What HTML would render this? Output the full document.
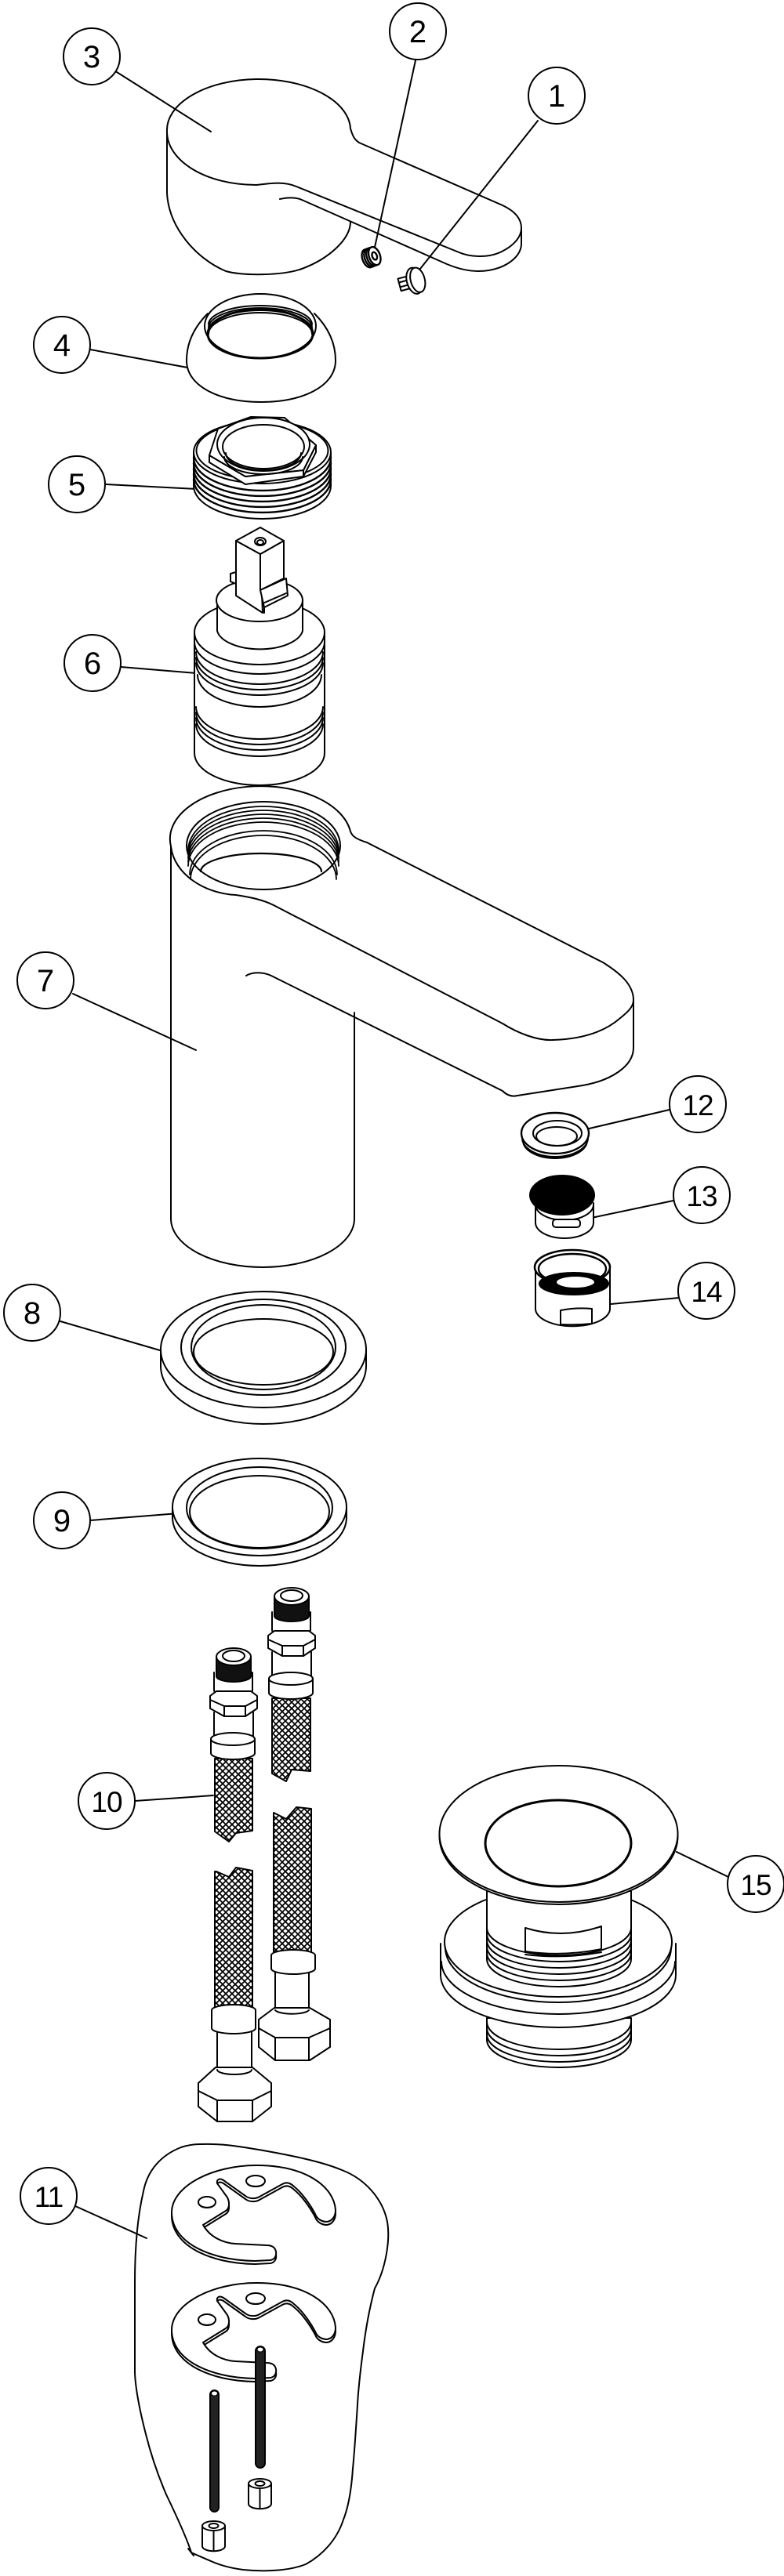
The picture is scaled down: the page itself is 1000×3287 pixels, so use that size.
<!DOCTYPE html>
<html><head><meta charset="utf-8">
<style>
html,body{margin:0;padding:0;background:#fff}
svg{display:block}
text{font-family:"Liberation Sans",Arial,sans-serif;font-size:40px;text-anchor:middle;fill:#000;stroke:none}
text.d{font-size:37px;letter-spacing:-1px}
</style></head>
<body>
<svg width="1000" height="3287" viewBox="0 0 1000 3287" xmlns="http://www.w3.org/2000/svg">
<defs>
<pattern id="mesh" width="8" height="8" patternUnits="userSpaceOnUse">
<rect width="8" height="8" fill="#fff"/>
<path d="M-2,-2 L10,10 M10,-2 L-2,10" stroke="#000" stroke-width="1.7"/>
</pattern>
</defs>
<rect width="1000" height="3287" fill="#fff"/>
<g fill="none" stroke="#000" stroke-width="2" stroke-linejoin="round" stroke-linecap="round">

<!-- ===== Label circles & leaders ===== -->
<circle cx="710" cy="122" r="36"/><line x1="686" y1="154" x2="532" y2="348"/>
<circle cx="533" cy="40" r="36"/><line x1="530" y1="77" x2="477" y2="320"/>
<circle cx="117" cy="72" r="36"/><line x1="149" y1="92" x2="269" y2="168"/>
<circle cx="79" cy="440" r="36"/><line x1="115" y1="446" x2="277" y2="476"/>
<circle cx="98" cy="618" r="36"/><line x1="135" y1="618" x2="251" y2="624"/>
<circle cx="118" cy="846" r="36"/><line x1="154" y1="851" x2="287" y2="862"/>
<circle cx="58" cy="1251" r="36"/><line x1="93" y1="1268" x2="250" y2="1340"/>
<circle cx="890" cy="1409" r="36"/><line x1="854" y1="1416" x2="743" y2="1442"/>
<circle cx="895" cy="1525" r="36"/><line x1="859" y1="1532" x2="740" y2="1557"/>
<circle cx="901" cy="1647" r="36"/><line x1="866" y1="1656" x2="768" y2="1665"/>
<circle cx="41" cy="1675" r="36"/><line x1="77" y1="1686" x2="221" y2="1728"/>
<circle cx="79" cy="1940" r="36"/><line x1="115" y1="1940" x2="228" y2="1931"/>
<circle cx="136" cy="2298" r="36"/><line x1="172" y1="2298" x2="272" y2="2291"/>
<circle cx="964" cy="2404" r="36"/><line x1="929" y1="2395" x2="863" y2="2363"/>
<circle cx="62" cy="2802" r="36"/><line x1="96" y1="2815" x2="187" y2="2856"/>

<!-- ===== 3 Handle ===== -->
<path d="M213,168 A117,65 0 0 1 447,164 C450,174 452,178 458,182 L641,262 C658,270 665,280 665,291 L665,311 C665,330 640,346 610,346 C596,346 582,342 570,337 L385,255 C376,251 366,252 357,254"/>
<path d="M213,168 C213,205 262,236 327,236 C345,234 362,231 378,238 L583,321 C598,328 622,330 640,321 C656,313 665,302 665,291"/>
<path d="M213,168 L213,246 C215,290 250,330 288,346 C310,352 360,352 385,343 C420,330 447,305 447,283"/>

<!-- 2 set screw -->
<g transform="translate(474,328) rotate(-20)" stroke-width="2.4">
<ellipse cx="-5" cy="0" rx="7" ry="12"/>
<ellipse cx="-2" cy="0" rx="7" ry="12"/>
<ellipse cx="1" cy="0" rx="7" ry="12"/>
<ellipse cx="4" cy="0" rx="7" ry="12" fill="#fff"/>
<ellipse cx="4" cy="0" rx="3" ry="5"/>
</g>
<!-- 1 screw -->
<g transform="translate(526,359) rotate(-15)">
<rect x="-17" y="-8" width="14" height="16" fill="#fff"/>
<path d="M-17,-3 L-5,-3 M-17,3 L-5,3"/>
<ellipse cx="3" cy="0" rx="10" ry="17" fill="#fff"/>
<ellipse cx="7" cy="0" rx="9" ry="16" fill="#fff"/>
</g>

<!-- ===== 4 Cap ===== -->
<path d="M265,400 C245,420 238,440 238,460 C238,493 280,513 333,513 C386,513 428,493 428,460 C428,440 421,420 401,400" fill="#fff"/>
<ellipse cx="332" cy="416" rx="71" ry="41" fill="#fff"/>
<path d="M266,414 A66,24 0 0 1 398,414 M266,418 A66,25 0 0 1 398,418 M266,422 A66,26 0 0 1 398,422 M266,426 A66,27 0 0 1 398,426"/>
<ellipse cx="332" cy="426" rx="67" ry="31" stroke-width="3"/>

<!-- ===== 5 Nut ===== -->
<path d="M247,577 L247,620 A87.5,42 0 0 0 422,620 L422,577" fill="#fff"/>
<path d="M247,584 A87.5,42 0 0 0 422,584 M247,591 A87.5,42 0 0 0 422,591 M247,598 A87.5,42 0 0 0 422,598 M247,605 A87.5,42 0 0 0 422,605 M247,612 A87.5,42 0 0 0 422,612" stroke-width="2.4"/>
<ellipse cx="334.5" cy="577" rx="87.5" ry="40" fill="#fff"/>
<ellipse cx="334.5" cy="575" rx="84" ry="37"/>
<polygon points="267,581 267,590 313,618 387,608 403,577 403,568 387,600 313,608" fill="#fff"/>
<path d="M387,600 L387,608"/>
<polygon points="267,581 278,547 320,532 363,533 403,568 387,600 313,608" fill="#fff"/>
<ellipse cx="336" cy="567" rx="59" ry="34" fill="#fff"/>
<ellipse cx="336" cy="570" rx="52" ry="28"/>
<path d="M286,583 A50,22 0 0 0 386,583 M288,578 A48,22 0 0 0 384,578"/>

<!-- ===== 6 Cartridge ===== -->
<path d="M248,807 L248,961 A83,41 0 0 0 414,961 L414,807" fill="#fff"/>
<ellipse cx="331" cy="807" rx="83" ry="41" fill="#fff"/>
<path d="M248,819 A83,41 0 0 0 414,819 M250,832 A81,41 0 0 0 412,832 M250,839 A81,41 0 0 0 412,839 M250,846 A81,41 0 0 0 412,846 M252,861 A79,41 0 0 0 410,861 M250,902 A81,41 0 0 0 412,902 M250,909 A81,41 0 0 0 412,909 M250,916 A81,41 0 0 0 412,916 M250,924 A81,41 0 0 0 412,924"/>
<path d="M277,766 L277,805 A55,27 0 0 0 386,805 L386,766" fill="#fff"/>
<ellipse cx="331" cy="766" rx="55" ry="27" fill="#fff"/>
<polygon points="301,690 332,707 335,782 301,760" fill="#fff"/>
<polygon points="332,707 362,690 362,738 332,753" fill="#fff"/>
<polygon points="332,753 365,738 367,760 337,775" fill="#fff"/>
<path d="M337,775 L337,782 M335,770 L365,757"/>
<polygon points="294,732 301,730 301,745 294,742" fill="#fff"/>
<polygon points="301,690 332,673 362,690 332,707" fill="#fff"/>
<ellipse cx="332" cy="691" rx="7" ry="5"/>
<ellipse cx="332" cy="692" rx="4" ry="3"/>

<!-- ===== 7 Spout body ===== -->
<path d="M218,1080 L218,1555 A117,62 0 0 0 452,1555 L452,1292"/>
<path d="M218,1080 A115,67 0 0 1 447,1061 C449,1066 452,1070 468,1075 L769,1228 C788,1240 808,1255 808,1276 L808,1337 C808,1360 780,1380 737,1386 L660,1398 C652,1400 646,1397 641,1392 L346,1245 C335,1240 322,1240 314,1245"/>
<path d="M218,1080 C222,1115 260,1140 301,1142 C320,1145 335,1148 349,1155 L641,1306 C660,1318 685,1328 705,1327 C740,1326 769,1318 790,1300 C800,1292 808,1285 808,1276"/>
<ellipse cx="336" cy="1079" rx="98" ry="56"/>
<path d="M240,1085 A96,56 0 0 1 432,1085 M240,1090 A96,56 0 0 1 432,1090 M240,1095 A96,56 0 0 1 432,1095 M240,1100 A96,56 0 0 1 432,1100 M240,1105 A96,56 0 0 1 432,1105 M242,1116 A94,56 0 0 1 430,1116 M243,1122 A93,56 0 0 1 429,1122" stroke-width="1.8"/>
<path d="M256,1112 A77,23 0 0 1 410,1112" stroke-width="2.2"/>

<!-- ===== 12 ===== -->
<path d="M666,1452 A42,24 0 0 0 750,1452 M667,1455 A41,23 0 0 0 749,1455"/>
<ellipse cx="708" cy="1446" rx="43" ry="26" fill="#fff" stroke-width="2.4"/>
<ellipse cx="711" cy="1446" rx="31" ry="16"/>
<ellipse cx="710" cy="1450" rx="26" ry="12"/>

<!-- ===== 13 ===== -->
<path d="M683,1535 L683,1560 A37,20 0 0 0 757,1560 L757,1535" fill="#fff"/>
<path d="M683,1537 A37,20 0 0 0 757,1537"/>
<rect x="705" y="1556" width="35" height="10" rx="4" fill="#fff"/>
<ellipse cx="717" cy="1525" rx="41" ry="25" fill="#000"/>

<!-- ===== 14 ===== -->
<path d="M683,1617 L683,1670 A47,22 0 0 0 778,1670 L778,1617" fill="#fff"/>
<ellipse cx="730" cy="1617" rx="48" ry="22" fill="#fff" stroke-width="2.6"/>
<ellipse cx="730" cy="1619" rx="43" ry="19" stroke-width="2.4"/>
<ellipse cx="732" cy="1638" rx="44" ry="14" fill="#000"/>
<ellipse cx="734" cy="1636" rx="25" ry="8" fill="#fff"/>
<path d="M715,1672 Q735,1668 755,1670 L755,1689 Q735,1691 715,1690 Z" fill="#fff"/>

<!-- ===== 8 ===== -->
<path d="M205,1722 L205,1743 A131,74 0 0 0 467,1743 L467,1722" fill="#fff"/>
<ellipse cx="336" cy="1722" rx="131" ry="74" fill="#fff"/>
<ellipse cx="336" cy="1719" rx="105" ry="61"/>
<ellipse cx="336" cy="1719" rx="92" ry="54"/>
<ellipse cx="336" cy="1725" rx="89" ry="42"/>

<!-- ===== 9 ===== -->
<path d="M220,1923 L220,1936 A111,62 0 0 0 442,1936 L442,1923" fill="#fff"/>
<ellipse cx="331" cy="1923" rx="111" ry="62" fill="#fff"/>
<ellipse cx="331" cy="1924" rx="93" ry="52"/>
<ellipse cx="331" cy="1929" rx="89" ry="46"/>

<!-- ===== 10 Hoses ===== -->
<!-- right hose upper -->
<path d="M347,2167 L347,2263 L365,2273 L372,2258 L396,2260 L396,2167 Z" fill="url(#mesh)"/>
<path d="M347,2057 L347,2080 A24.5,7 0 0 0 396,2080 L396,2057" fill="#fff"/>
<path d="M350,2037 L350,2062 A22,7 0 0 0 394,2062 L394,2037 Z" fill="#111"/>
<ellipse cx="372" cy="2037" rx="22" ry="11" fill="#fff"/>
<ellipse cx="372" cy="2036" rx="14" ry="7"/>
<path d="M347,2108 L347,2137 A25,7 0 0 0 397,2137 L397,2108" fill="#fff"/>
<polygon points="342,2087 350,2081 394,2081 402,2087 402,2103 387,2113 360,2113 342,2103" fill="#fff"/>
<path d="M342,2092 L360,2100 L387,2100 L402,2092 M360,2100 L360,2113 M387,2100 L387,2113"/>
<path d="M343,2142 L343,2160 A28,8 0 0 0 399,2160 L399,2142 A28,8 0 0 0 343,2142 Z" fill="#fff"/>
<path d="M343,2142 A28,8 0 0 0 399,2142"/>
<!-- left hose upper -->
<path d="M274,2244 L274,2337 L292,2350 L301,2339 L322,2336 L322,2244 Z" fill="url(#mesh)"/>
<path d="M273,2134 L273,2157 A24.5,7 0 0 0 322,2157 L322,2134" fill="#fff"/>
<path d="M276,2114 L276,2139 A22,7 0 0 0 320,2139 L320,2114 Z" fill="#111"/>
<ellipse cx="298" cy="2114" rx="22" ry="11" fill="#fff"/>
<ellipse cx="298" cy="2113" rx="14" ry="7"/>
<path d="M273,2185 L273,2214 A25,7 0 0 0 323,2214 L323,2185" fill="#fff"/>
<polygon points="268,2164 276,2158 320,2158 328,2164 328,2180 313,2190 286,2190 268,2180" fill="#fff"/>
<path d="M268,2169 L286,2177 L313,2177 L328,2169 M286,2177 L286,2190 M313,2177 L313,2190"/>
<path d="M269,2219 L269,2237 A28,8 0 0 0 325,2237 L325,2219 A28,8 0 0 0 269,2219 Z" fill="#fff"/>
<path d="M269,2219 A28,8 0 0 0 325,2219"/>
<!-- right hose lower -->
<path d="M349,2313 L365,2321 L378,2306 L397,2308 L397,2500 L349,2500 Z" fill="url(#mesh)"/>
<path d="M351,2516 L351,2567 L394,2567 L394,2516" fill="#fff"/>
<path d="M346,2495 L346,2512 A28,7 0 0 0 402,2512 L402,2495 A28,7 0 0 0 346,2495 Z" fill="#fff"/>
<polygon points="330,2577 350,2562 395,2562 421,2577 421,2612 395,2629 351,2629 330,2612" fill="#fff"/>
<path d="M330,2588 L351,2600 L394,2600 L421,2588 M351,2600 L351,2629 M394,2600 L394,2629 M351,2565 A22,6 0 0 0 394,2565"/>
<!-- left hose lower -->
<path d="M276,2388 L292,2395 L301,2383 L322,2387 L322,2567 L274,2567 L274,2388 Z" fill="url(#mesh)"/>
<path d="M277,2590 L277,2643 L321,2643 L321,2590" fill="#fff"/>
<path d="M270,2565 L270,2588 A28,7 0 0 0 326,2588 L326,2565 A28,7 0 0 0 270,2565 Z" fill="#fff"/>
<polygon points="253,2658 275,2638 322,2638 346,2658 346,2688 322,2707 277,2707 253,2688" fill="#fff"/>
<path d="M253,2668 L277,2680 L322,2680 L346,2668 M277,2680 L277,2707 M322,2680 L322,2707 M277,2641 A22,6 0 0 0 321,2641"/>

<!-- ===== 15 Waste ===== -->
<path d="M621,2575 L621,2603 A92,35 0 0 0 805,2603 L805,2575 Z" fill="#fff"/>
<path d="M621,2580 A92,35 0 0 0 805,2580 M621,2588 A92,35 0 0 0 805,2588 M621,2596 A92,35 0 0 0 805,2596"/>
<path d="M562,2480 L562,2520 A150,67 0 0 0 862,2520 L862,2480" fill="#fff"/>
<path d="M563,2503 A149,67 0 0 0 861,2503"/>
<ellipse cx="712" cy="2478" rx="145" ry="70" fill="#fff"/>
<path d="M568,2485 A144,70 0 0 0 856,2485"/>
<path d="M621,2413 L621,2500 A92,35 0 0 0 805,2500 L805,2413 Z" fill="#fff"/>
<path d="M621,2460 A92,35 0 0 0 805,2460 M621,2468 A92,35 0 0 0 805,2468 M621,2476 A92,35 0 0 0 805,2476 M621,2484 A92,35 0 0 0 805,2484 M621,2492 A92,35 0 0 0 805,2492"/>
<path d="M670,2460 Q718,2475 767,2458 L767,2487 Q718,2497 670,2490 Z" fill="#fff"/>
<path d="M670,2494 Q718,2500 767,2491"/>
<ellipse cx="712.5" cy="2343" rx="152" ry="87" fill="#fff"/>
<ellipse cx="712.5" cy="2340" rx="152" ry="87" fill="#fff"/>
<ellipse cx="712" cy="2352" rx="93" ry="55" stroke-width="3"/>

<!-- ===== 11 Bag ===== -->
<path d="M256,2736 C280,2735 300,2738 330,2743 C370,2750 410,2758 436,2769 C465,2780 488,2805 494,2835 C498,2858 492,2895 478,2920 C470,2950 466,2975 463,3000 C459,3030 457,3050 456,3068 C454,3100 452,3130 450,3150 C448,3180 444,3200 438,3215 C430,3240 412,3260 390,3272 C370,3280 340,3282 310,3279 C295,3277 280,3273 269,3268 C260,3264 250,3260 244,3257 C238,3238 225,3210 212,3183 C200,3155 192,3130 186,3106 C178,3075 173,3050 172,3028 L172,2912 C172,2870 175,2830 183,2796 C188,2770 205,2750 231,2740 C240,2737 248,2736 256,2736 Z"/>
<path d="M240,3252 L247,3261"/>

<!-- clips -->
<g id="clip">
<path transform="translate(0,4)" d="M402,2825 C404,2831 410,2835 417,2835 C424,2834 428,2828 428,2820 C426,2790 390,2763 327,2763 C270,2763 219,2790 219,2823 C219,2860 265,2884 325,2885 L345,2884 C350,2883 353,2879 352,2873 C351,2868 347,2865 340,2865 L300,2863 C285,2862 268,2855 259,2839 L288,2821 C293,2818 293,2810 290,2804 L277,2786 C276,2781 280,2779 285,2782 L313,2802 C318,2806 326,2806 331,2803 L360,2787 C365,2784 370,2785 375,2790 C385,2798 395,2812 402,2825 Z" fill="#fff"/>
<path d="M402,2825 C404,2831 410,2835 417,2835 C424,2834 428,2828 428,2820 C426,2790 390,2763 327,2763 C270,2763 219,2790 219,2823 C219,2860 265,2884 325,2885 L345,2884 C350,2883 353,2879 352,2873 C351,2868 347,2865 340,2865 L300,2863 C285,2862 268,2855 259,2839 L288,2821 C293,2818 293,2810 290,2804 L277,2786 C276,2781 280,2779 285,2782 L313,2802 C318,2806 326,2806 331,2803 L360,2787 C365,2784 370,2785 375,2790 C385,2798 395,2812 402,2825 Z" fill="#fff"/>
<ellipse cx="326" cy="2783" rx="12" ry="7"/>
<path d="M316,2787 A11,5 0 0 0 336,2787"/>
<ellipse cx="264" cy="2810" rx="11" ry="7"/>
<path d="M255,2814 A10,5 0 0 0 273,2814"/>
</g>
<g transform="translate(0,150)">
<path transform="translate(0,4)" d="M402,2825 C404,2831 410,2835 417,2835 C424,2834 428,2828 428,2820 C426,2790 390,2763 327,2763 C270,2763 219,2790 219,2823 C219,2860 265,2884 325,2885 L345,2884 C350,2883 353,2879 352,2873 C351,2868 347,2865 340,2865 L300,2863 C285,2862 268,2855 259,2839 L288,2821 C293,2818 293,2810 290,2804 L277,2786 C276,2781 280,2779 285,2782 L313,2802 C318,2806 326,2806 331,2803 L360,2787 C365,2784 370,2785 375,2790 C385,2798 395,2812 402,2825 Z" fill="#fff"/>
<path d="M402,2825 C404,2831 410,2835 417,2835 C424,2834 428,2828 428,2820 C426,2790 390,2763 327,2763 C270,2763 219,2790 219,2823 C219,2860 265,2884 325,2885 L345,2884 C350,2883 353,2879 352,2873 C351,2868 347,2865 340,2865 L300,2863 C285,2862 268,2855 259,2839 L288,2821 C293,2818 293,2810 290,2804 L277,2786 C276,2781 280,2779 285,2782 L313,2802 C318,2806 326,2806 331,2803 L360,2787 C365,2784 370,2785 375,2790 C385,2798 395,2812 402,2825 Z" fill="#fff"/>
<ellipse cx="326" cy="2783" rx="12" ry="7"/>
<path d="M316,2787 A11,5 0 0 0 336,2787"/>
<ellipse cx="264" cy="2810" rx="11" ry="7"/>
<path d="M255,2814 A10,5 0 0 0 273,2814"/>
</g>

<!-- rods -->
<rect x="326" y="2994" width="12" height="155" rx="6" fill="#222"/>
<ellipse cx="332" cy="2998" rx="4" ry="3" fill="#fff" stroke-width="1"/>
<rect x="268" y="3050" width="11" height="155" rx="5.5" fill="#222"/>
<ellipse cx="273.5" cy="3054" rx="4" ry="3" fill="#fff" stroke-width="1"/>
<!-- nuts -->
<path d="M317,3169 L317,3195 A14,6 0 0 0 346,3195 L346,3169" fill="#fff"/>
<ellipse cx="331.5" cy="3169" rx="14.5" ry="6" fill="#fff"/>
<ellipse cx="331.5" cy="3169" rx="6" ry="3"/>
<path d="M331.5,3175 L331.5,3201"/>
<path d="M258,3223 L258,3249 A14,6 0 0 0 287,3249 L287,3223" fill="#fff"/>
<ellipse cx="272.5" cy="3223" rx="14.5" ry="6" fill="#fff"/>
<ellipse cx="272.5" cy="3223" rx="6" ry="3"/>
<path d="M272.5,3229 L272.5,3255"/>
</g>

<!-- ===== Label texts ===== -->
<text x="710" y="136">1</text>
<text x="533" y="54">2</text>
<text x="117" y="86">3</text>
<text x="79" y="454">4</text>
<text x="98" y="632">5</text>
<text x="118" y="860">6</text>
<text x="58" y="1265">7</text>
<text x="41" y="1689">8</text>
<text x="79" y="1954">9</text>
<text class="d" x="136" y="2312">10</text>
<text class="d" x="62" y="2816">11</text>
<text class="d" x="890" y="1423">12</text>
<text class="d" x="895" y="1539">13</text>
<text class="d" x="901" y="1661">14</text>
<text class="d" x="964" y="2418">15</text>
</svg>
</body></html>
